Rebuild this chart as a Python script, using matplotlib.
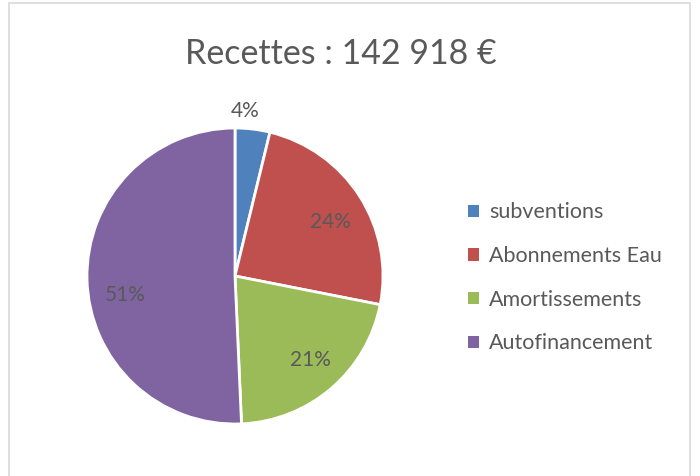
import numpy as np
import matplotlib.pyplot as plt
from matplotlib.patches import Rectangle, Patch

# données (parts en %)
categories = ["subventions", "Abonnements Eau", "Amortissements", "Autofinancement"]
valeurs = [3.8, 24.3, 21.2, 50.7]
couleurs = ["#4F81BD", "#C0504D", "#9BBB59", "#8064A2"]
titre = "Recettes : 142 918 €"

# position des étiquettes (rayon relatif, angle en degrés), comme Excel
etiq_pos = [(1.12, 86.5), (0.74, 29.6), (0.76, -48.2), (0.75, 189.8)]

gris = "#595959"
plt.rcParams["font.family"] = ["Lato", "DejaVu Sans"]

fig = plt.figure(figsize=(7, 4.76), dpi=100)

# cadre du graphique
fig.patches.append(Rectangle((9 / 700, -0.01), 681 / 700, 1 - 3 / 476 + 0.01,
                             transform=fig.transFigure, fill=False,
                             edgecolor="#D9D9D9", linewidth=1.2))

fig.text(341 / 700, 1 - 54 / 476, titre, ha="center", va="center",
         fontsize=24.5, color=gris)

# camembert
cx, cy, r = 235, 276, 148
ax = fig.add_axes([(cx - r) / 700, (476 - cy - r) / 476, 2 * r / 700, 2 * r / 476])
wedges, _ = ax.pie(valeurs, colors=couleurs, startangle=90, counterclock=False,
                   wedgeprops=dict(edgecolor="white", linewidth=2))
ax.set_aspect("equal")
ax.set_xlim(-1, 1)
ax.set_ylim(-1, 1)

# étiquettes de pourcentage
total = sum(valeurs)
for v, (dist, a) in zip(valeurs, etiq_pos):
    ang = np.deg2rad(a)
    ax.text(dist * np.cos(ang), dist * np.sin(ang), f"{round(100 * v / total)}%",
            ha="center", va="center", fontsize=15, color=gris, clip_on=False)

# légende
handles = [Patch(facecolor=c, edgecolor="none") for c in couleurs]
fig.legend(handles, categories, loc="upper left",
           bbox_to_anchor=(449 / 700, 1 - 183 / 476), frameon=False,
           fontsize=15.5, labelcolor=gris, handlelength=0.5, handleheight=0.5,
           handletextpad=0.45, labelspacing=1.1)

fig.savefig("out.png", dpi=100)
